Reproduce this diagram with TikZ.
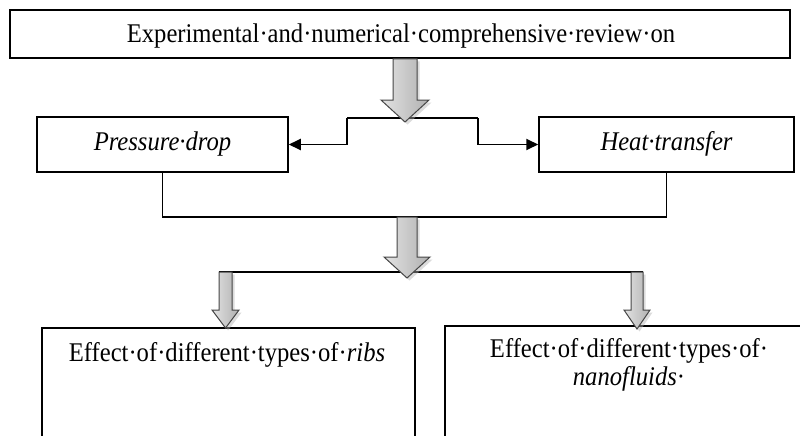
\documentclass[tikz,border=0pt]{standalone}
\usepackage{fontspec}
\usepackage{graphicx}
\setmainfont{Liberation Serif}
\usetikzlibrary{arrows.meta}
\newcommand{\narrowtxt}[1]{\scalebox{0.912}[1]{#1}}
\newcommand{\grayarrow}[6]{% cx, ytop, yhead, ytip, half shaft, half head
  \fill[gray!60, opacity=0.45]
    ({#1-#5+2.5},{#2+2.5}) -- ({#1+#5+2.5},{#2+2.5}) -- ({#1+#5+2.5},{#3+2.5}) -- ({#1+#6+2.5},{#3+2.5})
    -- ({#1+2.5},{#4+2.5}) -- ({#1-#6+2.5},{#3+2.5}) -- ({#1-#5+2.5},{#3+2.5}) -- cycle;
  \draw[arrowline, left color=gray!22, right color=gray!62]
    ({#1-#5},#2) -- ({#1+#5},#2) -- ({#1+#5},#3) -- ({#1+#6},#3)
    -- (#1,#4) -- ({#1-#6},#3) -- ({#1-#5},#3) -- cycle;
}
\begin{document}
\begin{tikzpicture}[x=1pt,y=-1pt,
  box/.style={draw=black, line width=1.5pt, inner sep=0pt},
  txt/.style={font=\fontsize{27}{28}\selectfont, inner sep=0pt, anchor=base},
  link/.style={draw=black, line width=1.8pt},
  tip/.style={-{Triangle[length=12pt,width=11pt]}},
  arrowline/.style={draw=gray!55!black, line width=1pt}]
\useasboundingbox (0,0) rectangle (800,436);
\clip (0,0) rectangle (800,436);
\fill[white] (0,0) rectangle (800,436);

% boxes
\node[box, minimum width=780pt, minimum height=48pt] (top) at (400,34) {};
\node[box, minimum width=251pt, minimum height=55pt] (pd) at (162.5,144.5) {};
\node[box, minimum width=255pt, minimum height=55pt] (ht) at (666.5,144.5) {};
\node[box, minimum width=373pt, minimum height=200pt] (ribs) at (228.5,428) {};
\node[box, minimum width=400pt, minimum height=200pt] (nano) at (645,426) {};

% texts
\node[txt] (ttop) at (401,43) {\narrowtxt{Experimental·and·numerical·comprehensive·review·on}};
\node[txt] (tpd) at (162.5,150) {\narrowtxt{\itshape Pressure·drop}};
\node[txt] (tht) at (666.5,150) {\narrowtxt{\itshape Heat·transfer}};
\node[txt] (tribs) at (227,361) {\narrowtxt{Effect·of·different·types·of·\textit{ribs}}};
\node[txt, anchor=north, align=center] (tnano) at (629,338.5) {\narrowtxt{Effect·of·different·types·of·}\\\narrowtxt{\textit{nanofluids}·}};

% connectors
\coordinate (s1) at (347,118);
\coordinate (s2) at (478,118);
\draw[link] (s1) -- (s2);
\draw[link, tip] (s1) |- (pd.east);
\draw[link, tip] (s2) |- (ht.west);

\coordinate (j) at (400,217);
\draw[link] (pd.south) -- (pd.south |- j) -| (ht.south);

\coordinate (b1) at (219,272);
\coordinate (b2) at (643,272);
\draw[link] (b1) -- (b2);

% block arrows
\grayarrow{405}{59}{100}{122}{12}{24}
\grayarrow{407}{217}{257}{278}{10}{23}
\grayarrow{225.5}{272}{310}{328}{6.5}{13.5}
\grayarrow{637}{272}{310}{329}{6}{13}
\end{tikzpicture}
\end{document}
